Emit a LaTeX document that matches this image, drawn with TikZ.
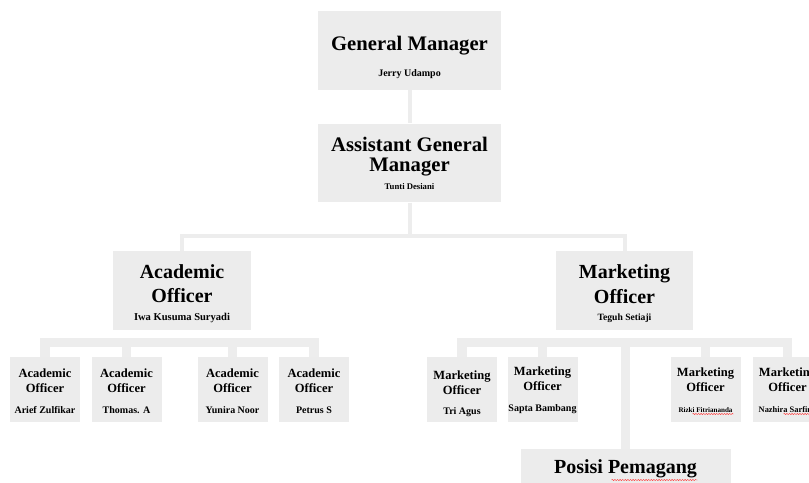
\documentclass[tikz,border=0pt]{standalone}
\usepackage{fontspec}
\setmainfont{Liberation Serif}
\usetikzlibrary{decorations.pathmorphing}
\definecolor{boxgray}{RGB}{236,236,236}
\definecolor{linegray}{RGB}{237,237,237}
\newdimen\px
\px=0.75pt
\newcommand\who[2]{{\fontsize{#1}{#1}\selectfont #2}}
\newcommand\headroom[1]{\rule{0pt}{#1}}

\begin{document}
\begin{tikzpicture}[x=0.75pt, y=-0.75pt,
  node/.style={fill=boxgray, inner sep=0pt, align=center},
  chief/.style={node, minimum width=183.5\px, minimum height=78.5\px,
    font=\bfseries\fontsize{15.5}{15}\selectfont},
  head/.style={node, minimum width=137.5\px, minimum height=79\px,
    font=\bfseries\fontsize{15}{18.5}\selectfont},
  staff/.style={node, minimum width=70\px, minimum height=65\px,
    font=\bfseries\fontsize{9.4}{11}\selectfont},
  intern/.style={node, minimum width=210\px, minimum height=40\px,
    font=\bfseries\fontsize{15}{15}\selectfont},
  link/.style={draw=linegray, line width=4\px},
  sublink/.style={draw=linegray, line width=9.5\px},
  squiggle/.style={draw=red!75, line width=0.35pt, decorate,
    decoration={snake, amplitude=0.6\px, segment length=2.6\px}}]

  \clip (0,0) rectangle (809,482);

  \node [chief] (gm) at (409.5,50.5) {\headroom{21pt}General Manager\\[4.3pt]\who{7.5}{Jerry Udampo}};
  \path (gm) ++(0,112.5) node [chief] (agm) {Assistant General\\Manager\\[-1.5pt]\who{6.5}{Tunti Desiani}};

  \path (agm) ++(-227.5,127.5) node [head] (acad) {\headroom{14.5pt}Academic\\Officer\\[-5.5pt]\who{7.9}{Iwa Kusuma Suryadi}};
  \path (agm) ++( 215.0,127.5) node [head] (mkt) {\headroom{15pt}Marketing\\Officer\\[-5.5pt]\who{7.2}{Teguh Setiaji}};

  \path (acad) ++(-137.0,99) node [staff] (a1) {\headroom{9.5pt}Academic\\Officer\\[5pt]\who{7.5}{Arief Zulfikar}};
  \path (acad) ++( -55.5,99) node [staff] (a2) {\headroom{9pt}Academic\\Officer\\[5pt]\who{7.5}{Thomas. A}};
  \path (acad) ++(  50.5,99) node [staff] (a3) {\headroom{9.5pt}Academic\\Officer\\[5pt]\who{7.5}{Yunira Noor}};
  \path (acad) ++( 132.0,99) node [staff] (a4) {\headroom{9.5pt}Academic\\Officer\\[5pt]\who{7.5}{Petrus S}};

  \path (mkt) ++(-162.5,99) node [staff] (m1) {\headroom{13pt}Marketing\\Officer\\[4pt]\who{7.5}{Tri Agus}};
  \path (mkt) ++( -82.0,99) node [staff] (m2) {\headroom{8pt}Marketing\\Officer\\[5pt]\who{7.5}{Sapta Bambang}};
  \path (mkt) ++(  81.0,99) node [staff] (m3) {\headroom{8pt}Marketing\\Officer\\[5pt]\who{5.3}{Rizki Fitriananda}};
  \path (mkt) ++( 163.0,99) node [staff] (m4) {\headroom{8pt}Marketing\\Officer\\[5pt]\who{6.3}{Nazhira Sarfina}};
  \path (mkt) ++(1,178.5) node [intern] (pos) {Posisi Pemagang};

  \path (agm) ++(0,72.5) coordinate (top);
  \path (acad) ++(0,52) coordinate (acadbar);
  \path (mkt) ++(1,52) coordinate (mktbar);

  \draw [link] (gm) -- (agm);
  \draw [link] (agm) -- (top);
  \draw [link] (top) -| (acad);
  \draw [link] (top) -| (mkt);
  \foreach \s in {a1,a2,a3,a4}
    \draw [sublink] (acadbar) -| (\s);
  \foreach \s in {m1,m2,m3,m4}
    \draw [sublink] (mktbar) -| (\s);
  \draw [sublink] (mktbar) -- (pos);

  \draw [squiggle] ([shift={(-13,24.5)}]m3.center) -- ++(41,0);
  \draw [squiggle] ([shift={(-4,24.5)}]m4.center) -- ++(29,0);
  \draw [squiggle] ([shift={(-14,11)}]pos.center) -- ++(86,0);
\end{tikzpicture}
\end{document}
